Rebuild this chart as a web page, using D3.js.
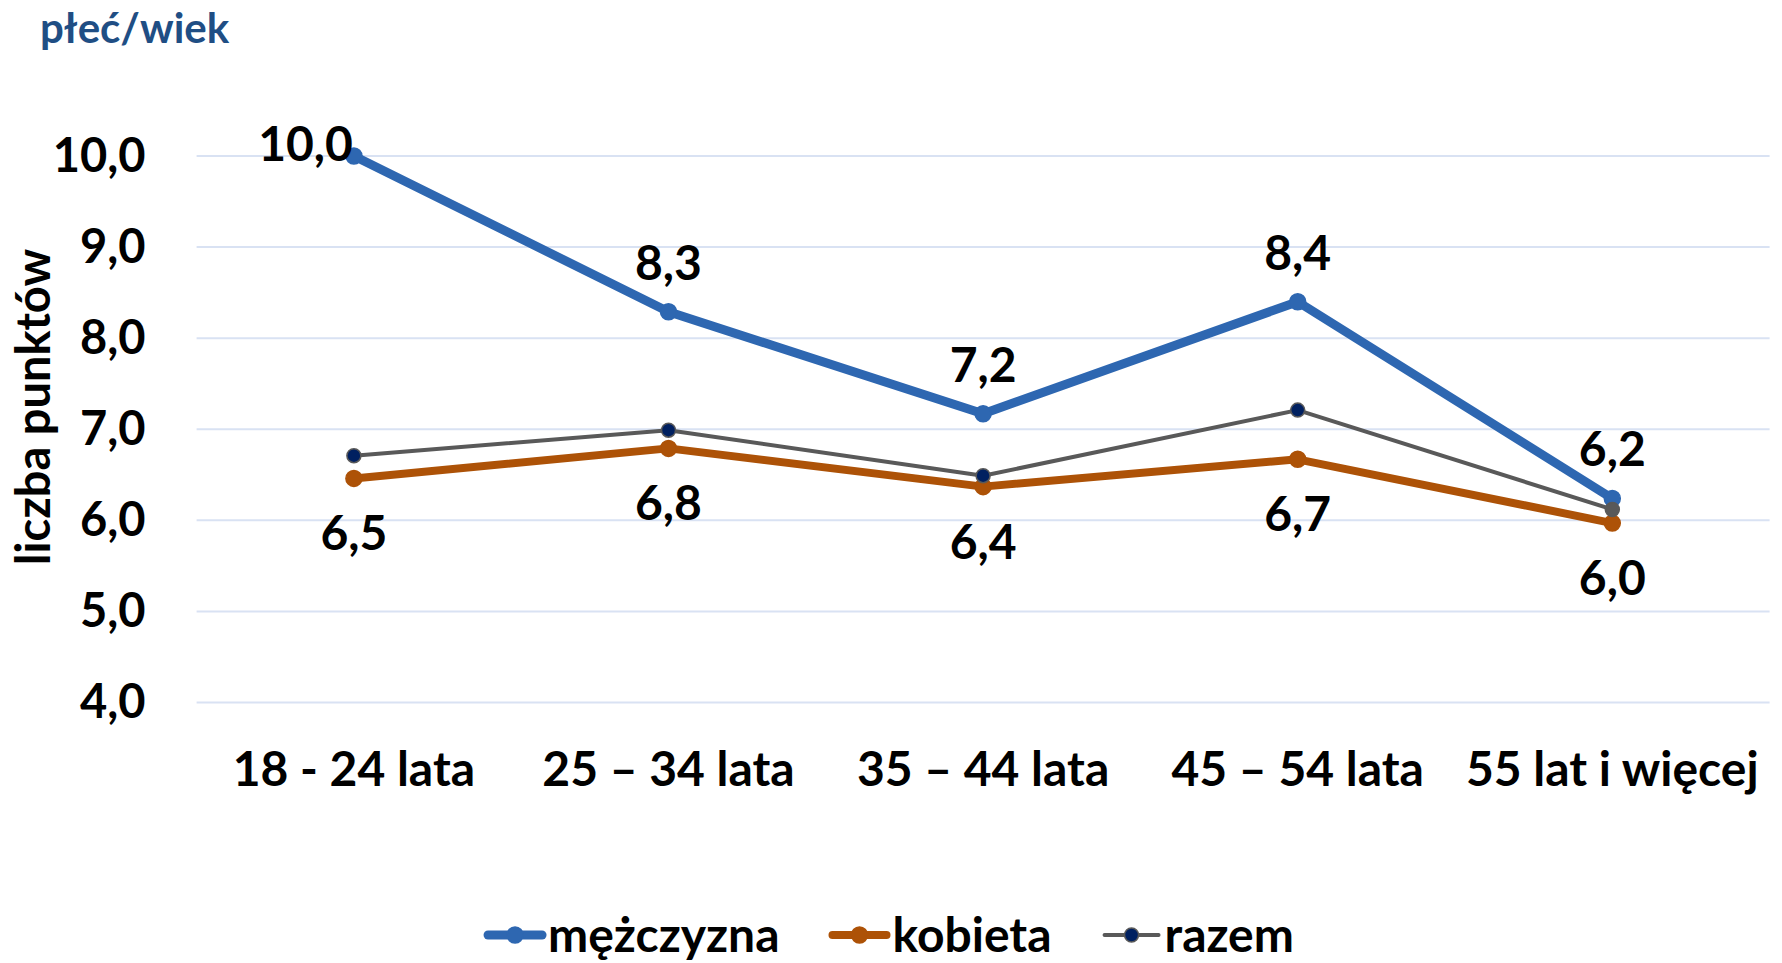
<!DOCTYPE html>
<html><head><meta charset="utf-8">
<script src="https://cdn.jsdelivr.net/npm/d3@7"></script>
<style>
html,body{margin:0;padding:0;background:#fff;}
svg text{font-family:Lato,"Open Sans",sans-serif;font-weight:700;}
</style></head>
<body>
<svg id="chart" width="1782" height="963"></svg>
<script>
const categories = ["18 - 24 lata", "25 – 34 lata", "35 – 44 lata", "45 – 54 lata", "55 lat i więcej"];
const seriesNames = ["mężczyzna", "kobieta", "razem"];
const mezczyzna = [10.0, 8.29, 7.17, 8.40, 6.24];
const kobieta = [6.46, 6.79, 6.37, 6.67, 5.97];
const razem = [6.71, 6.99, 6.49, 7.21, 6.12];
const yTicks = [4, 5, 6, 7, 8, 9, 10];
const title = "płeć/wiek";
const yTitle = "liczba punktów";

(function(){
const svg = d3.select("#chart");
const pL = 196.6, pR = 1769.6, pT = 156, pB = 702.5;
const x = d3.scaleBand().domain(categories).range([pL, pR]);
const y = d3.scaleLinear().domain([4, 10]).range([pB, pT]);
const fmt = v => v.toFixed(1).replace(".", ",");

svg.append("text").attr("x", 40).attr("y", 43).attr("fill", "#1F4E84")
  .attr("font-size", 42).text(title);

svg.append("g").selectAll("line").data(yTicks).join("line")
  .attr("x1", pL).attr("x2", pR)
  .attr("y1", d => y(d)).attr("y2", d => y(d))
  .attr("stroke", "#D9E2F3").attr("stroke-width", 2);

const yAxis = svg.append("g").attr("transform", `translate(${pL},0)`)
  .call(d3.axisLeft(y).tickValues(yTicks).tickFormat(fmt).tickSize(0).tickPadding(51));
yAxis.select(".domain").remove();
yAxis.selectAll("text").attr("font-size", 47).attr("fill", "#000")
  .attr("font-family", "Lato").attr("font-weight", 700);

const xAxis = svg.append("g").attr("transform", `translate(0,${pB})`)
  .call(d3.axisBottom(x).tickSize(0).tickPadding(49));
xAxis.select(".domain").remove();
xAxis.selectAll("text").attr("font-size", 48).attr("fill", "#000")
  .attr("font-family", "Lato").attr("font-weight", 700);

svg.append("text").attr("transform", "translate(50,407) rotate(-90)")
  .attr("text-anchor", "middle").attr("font-size", 47).attr("fill", "#000").text(yTitle);

const cx = c => x(c) + x.bandwidth() / 2;
const series = [
  {name: seriesNames[0], values: mezczyzna, color: "#2E67B1", width: 9, r: 8, fill: "#2E67B1", stroke: "#2E67B1"},
  {name: seriesNames[1], values: kobieta, color: "#AD5207", width: 8, r: 8, fill: "#AD5207", stroke: "#AD5207"},
  {name: seriesNames[2], values: razem, color: "#595959", width: 4, r: 7, fill: "#002060", stroke: "#595959"}
];
const line = d3.line().x((d, i) => cx(categories[i])).y(d => y(d));

series.forEach(s => {
  svg.append("path").datum(s.values).attr("d", line)
    .attr("fill", "none").attr("stroke", s.color).attr("stroke-width", s.width)
    .attr("stroke-linejoin", "round");
  svg.append("g").selectAll("circle").data(s.values).join("circle")
    .attr("cx", (d, i) => cx(categories[i])).attr("cy", d => y(d))
    .attr("r", s.r)
    .attr("fill", (d, i) => (s.name === "razem" && i === s.values.length - 1) ? "#595959" : s.fill)
    .attr("stroke", s.stroke).attr("stroke-width", 1.5);
});

svg.append("g").selectAll("text").data(mezczyzna).join("text")
  .attr("x", (d, i) => i === 0 ? cx(categories[i]) - 1 : cx(categories[i]))
  .attr("y", (d, i) => i === 0 ? y(d) + 5 : y(d) - 32)
  .attr("text-anchor", (d, i) => i === 0 ? "end" : "middle")
  .attr("font-size", 48).attr("fill", "#000").text(fmt);
svg.append("g").selectAll("text").data(kobieta).join("text")
  .attr("x", (d, i) => cx(categories[i])).attr("y", d => y(d) + 72)
  .attr("text-anchor", "middle").attr("font-size", 48).attr("fill", "#000").text(fmt);

const leg = svg.append("g").attr("transform", "translate(0,935)");
const legItems = leg.selectAll("g").data(series).join("g");
legItems.append("line").attr("x1", 0).attr("x2", 54).attr("y1", 0).attr("y2", 0)
  .attr("stroke", d => d.color).attr("stroke-width", d => d.width).attr("stroke-linecap", "round");
legItems.append("circle").attr("cx", 27).attr("cy", 0).attr("r", d => d.r)
  .attr("fill", d => d.fill).attr("stroke", d => d.stroke).attr("stroke-width", 1.5);
legItems.append("text").attr("x", 60).attr("y", 0).attr("dy", "0.35em")
  .attr("font-size", 48).attr("fill", "#000").text(d => d.name);
let widths = [];
legItems.each(function(){ widths.push(this.getBBox().width); });
const gap = 53;
const total = d3.sum(widths) + gap * (widths.length - 1);
let pos = 891 - total / 2;
legItems.attr("transform", (d, i) => { const p = pos; pos += widths[i] + gap; return `translate(${p},0)`; });
})();
</script>
</body></html>
